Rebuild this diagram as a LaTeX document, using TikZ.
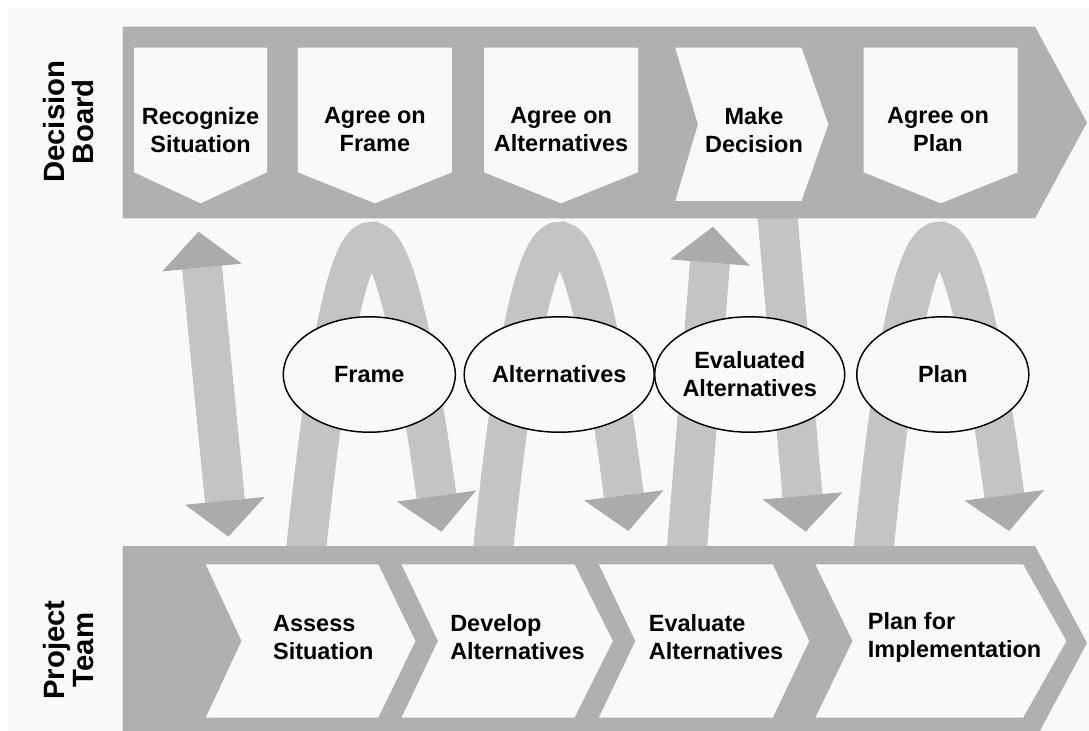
\documentclass[tikz,border=0pt]{standalone}
\usepackage{fontspec}
\setmainfont{Liberation Sans}
\usepackage{tikz}
\usetikzlibrary{arrows.meta, shapes.geometric, positioning}
\definecolor{bandgray}{RGB}{176,176,176}
\definecolor{shaftgray}{RGB}{196,196,196}
\definecolor{headgray}{RGB}{171,171,171}
\definecolor{paper}{RGB}{249,249,249}

\begin{document}
\begin{tikzpicture}[
    x=0.75pt, y=-0.75pt,
    lbl/.style={font=\bfseries\fontsize{17.6}{21}\selectfont, align=center, inner sep=0pt},
    steplbl/.style={lbl, align=left, anchor=west},
    side/.style={font=\bfseries\fontsize{22}{22.2}\selectfont, align=center, rotate=90, inner sep=0pt},
    band/.style={fill=bandgray},
    card/.style={fill=paper},
    bubble/.style={ellipse, draw, line width=1.1pt, fill=paper, minimum width=129pt, minimum height=86.6pt, lbl},
    flow/.style={shaftgray, line width=30pt, -{Triangle[width=60pt, length=27pt, line width=0pt, color=headgray]}},
    flowboth/.style={shaftgray, line width=30pt, {Triangle[width=60pt, length=27pt, line width=0pt, color=headgray]}-{Triangle[width=60pt, length=27pt, line width=0pt, color=headgray]}},
]
\useasboundingbox (0,0) rectangle (1089,731);
\clip (0,0) rectangle (1089,731);
\fill[white] (0,0) rectangle (1089,731);
\fill[paper] (8,8) rectangle (1089,731);

% arrows between board and team (ends hidden under the bands)
\coordinate (recogUp) at (198.5,231.7);
\coordinate (assessDown) at (228.4,536.7);
\coordinate (frameFoot) at (305,560);
\coordinate (frameEnd) at (441.4,531.7);
\coordinate (altFoot) at (492,560);
\coordinate (altEnd) at (628.4,531);
\coordinate (evalFoot) at (686,560);
\coordinate (evalEnd) at (712.9,226.7);
\coordinate (decFoot) at (776,200);
\coordinate (decEnd) at (805.7,531.7);
\coordinate (planFoot) at (872.5,560);
\coordinate (planEnd) at (1009,531);

\draw[flowboth] (recogUp) -- (assessDown);
\draw[flow] (frameFoot) .. controls (348,147) and (388,147) .. (frameEnd);
\draw[flow] (altFoot) .. controls (534,147) and (579,147) .. (altEnd);
\draw[flow] (evalFoot) -- (evalEnd);
\draw[flow] (decFoot) -- (decEnd);
\draw[flow] (planFoot) .. controls (913.5,147) and (958,147) .. (planEnd);

% bands
\fill[band] (122.7,26.7) -- (1035,26.7) -- (1087,122.5) -- (1035,218.3) -- (122.7,218.3) -- cycle;
\fill[band] (122.7,546) -- (1035,546) -- (1087,643) -- (1035,740) -- (122.7,740) -- cycle;

% decision board steps
\fill[card] (134.2,47.7) -- (267,47.7) -- (267,172.3) -- (200.6,203.3) -- (134.2,172.3) -- cycle;
\fill[card] (297.9,47.7) -- (451.9,47.7) -- (451.9,172.3) -- (374.9,203.3) -- (297.9,172.3) -- cycle;
\fill[card] (484.2,47.7) -- (638,47.7) -- (638,172.3) -- (561.1,203.3) -- (484.2,172.3) -- cycle;
\fill[card] (675.3,47.7) -- (801.5,47.7) -- (828.3,124.4) -- (801.5,201) -- (675.3,201) -- (698,124.4) -- cycle;
\fill[card] (863.7,47.7) -- (1017.7,47.7) -- (1017.7,172.3) -- (940.7,203.3) -- (863.7,172.3) -- cycle;

\node[lbl] (recog) at (200.6,130) {Recognize\\Situation};
\node[lbl] (agreeframe) at (374.9,130) {Agree on\\Frame};
\node[lbl] (agreealt) at (561.1,130) {Agree on\\Alternatives};
\node[lbl] (decide) at (754,130) {Make\\Decision};
\node[lbl] (agreeplan) at (938,130) {Agree on\\Plan};

% project team steps
\fill[card] (205.8,564.3) -- (378.2,564.3) -- (415.4,641) -- (378.2,717.7) -- (205.8,717.7) -- (241.6,641) -- cycle;
\fill[card] (401.5,564.3) -- (574.5,564.3) -- (612.8,641) -- (574.5,717.7) -- (401.5,717.7) -- (438,641) -- cycle;
\fill[card] (598.9,564.3) -- (772.7,564.3) -- (809.2,641) -- (772.7,717.7) -- (598.9,717.7) -- (635.4,641) -- cycle;
\fill[card] (815.4,564.3) -- (1023,564.3) -- (1066.4,641) -- (1023,717.7) -- (815.4,717.7) -- (852.6,641) -- cycle;

\node[steplbl] (assess) at (272.9,637.5) {Assess\\Situation};
\node[steplbl] (develop) at (450,637.5) {Develop\\Alternatives};
\node[steplbl] (evaluate) at (648.6,637.5) {Evaluate\\Alternatives};
\node[steplbl] (implement) at (867.6,637.5) {Plan for\\Implementation};

% products
\node[bubble] (frame) at (369.3,374.5) {Frame};
\node[bubble] (alternatives) at (559.2,374.5) {Alternatives};
\node[bubble] (evaluated) at (749.7,374.5) {Evaluated\\Alternatives};
\node[bubble] (plan) at (942.8,374.5) {Plan};

% side labels
\node[side] (board) at (68.7,121.7) {Decision\\Board};
\node[side] (team) at (68.7,650) {Project\\Team};
\end{tikzpicture}
\end{document}
